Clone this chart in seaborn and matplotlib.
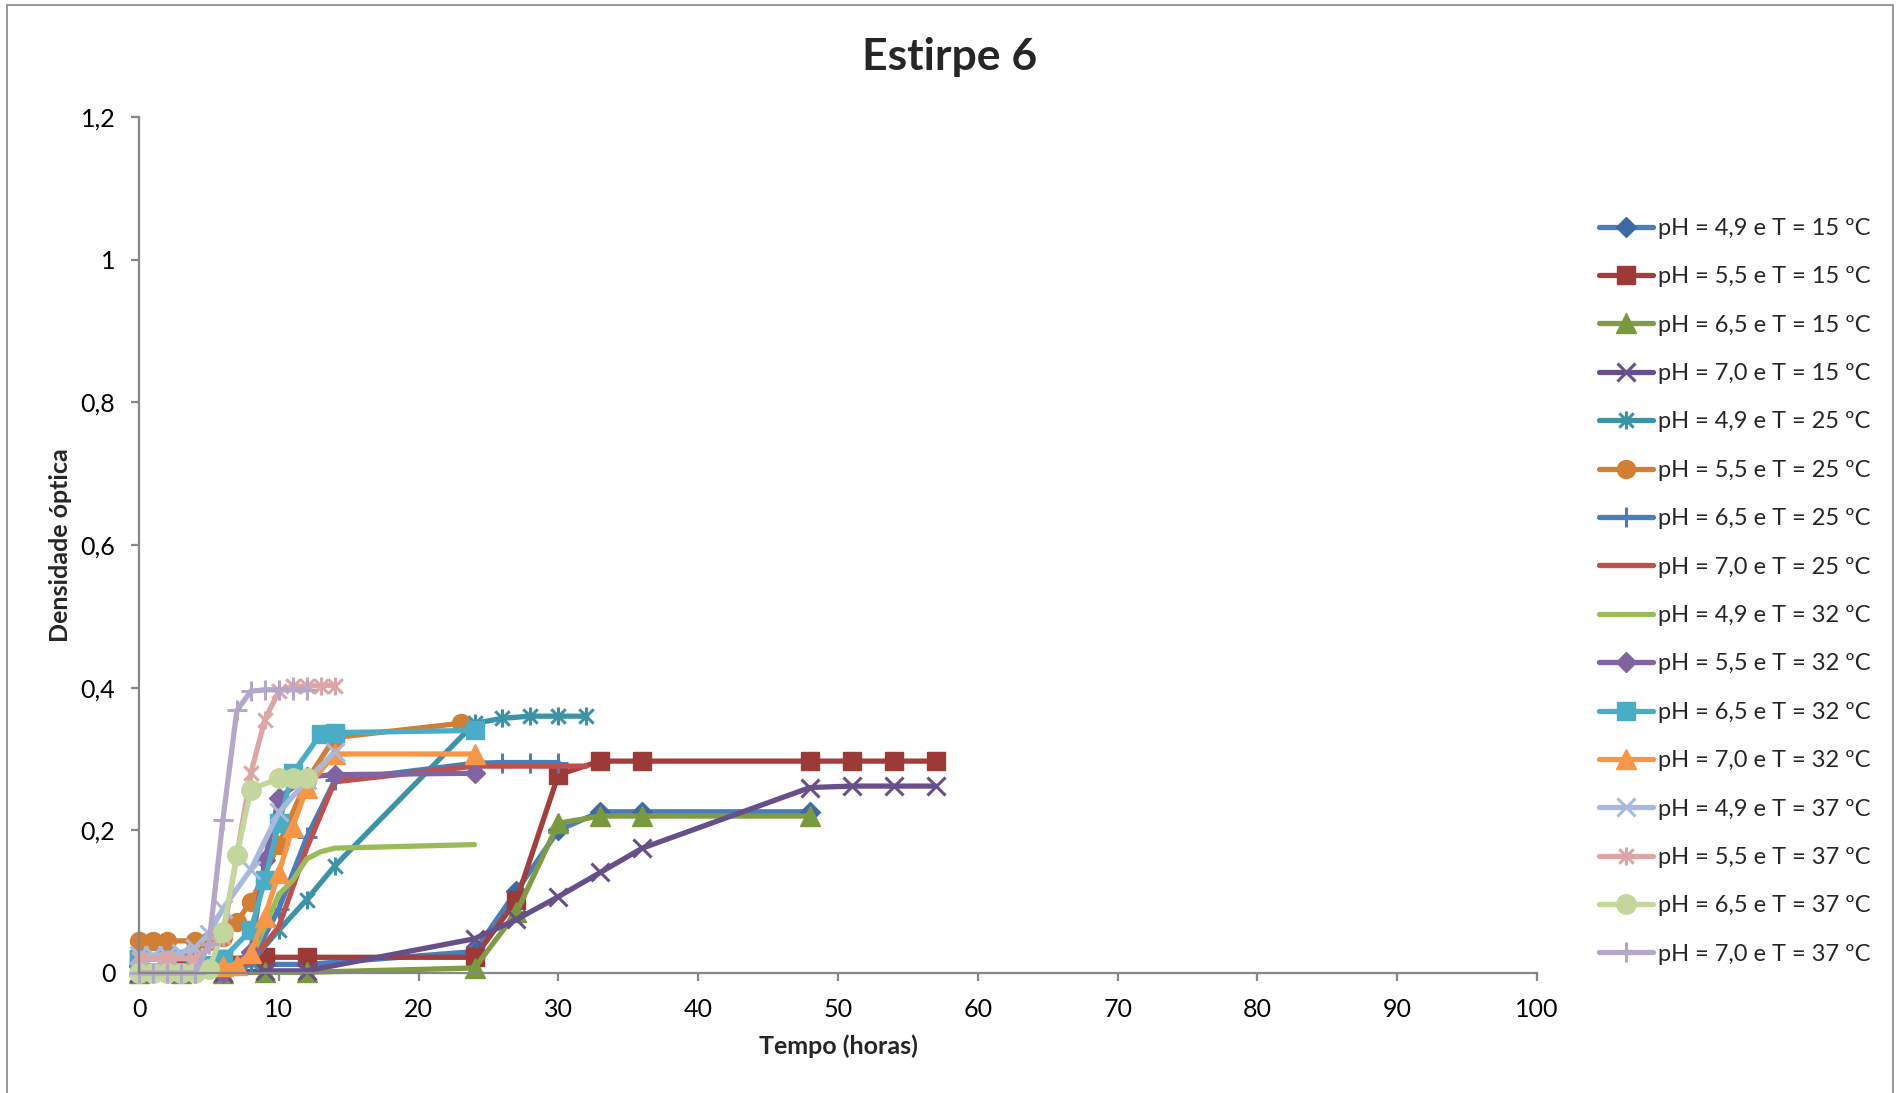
import matplotlib
matplotlib.use("Agg")
import matplotlib.pyplot as plt
from matplotlib.path import Path
from matplotlib.patches import Rectangle
from matplotlib.ticker import FuncFormatter, MultipleLocator
import seaborn as sns
import pandas as pd

# ---- growth curves: time (h) and optical density per condition ----
t_49_15 = [0, 3, 6, 9, 12, 24, 27, 30, 33, 36, 48]
od_49_15 = [0.010, 0.010, 0.010, 0.012, 0.012, 0.030, 0.115, 0.200, 0.226, 0.226, 0.226]

t_55_15 = [0, 3, 6, 9, 12, 24, 27, 30, 33, 36, 48, 51, 54, 57]
od_55_15 = [0.020, 0.020, 0.020, 0.022, 0.022, 0.022, 0.102, 0.278, 0.297, 0.297, 0.297, 0.297, 0.297, 0.297]

t_65_15 = [0, 3, 6, 9, 12, 24, 27, 30, 33, 36, 48]
od_65_15 = [0.000, 0.000, 0.000, 0.001, 0.001, 0.007, 0.085, 0.210, 0.220, 0.220, 0.220]

t_70_15 = [0, 3, 6, 9, 12, 24, 27, 30, 33, 36, 48, 51, 54, 57]
od_70_15 = [0.000, 0.000, 0.000, 0.003, 0.003, 0.048, 0.075, 0.107, 0.141, 0.175, 0.260, 0.262, 0.262, 0.262]

t_49_25 = [0, 2, 4, 6, 8, 10, 12, 14, 24, 26, 28, 30, 32]
od_49_25 = [0.010, 0.010, 0.010, 0.010, 0.015, 0.060, 0.103, 0.150, 0.350, 0.357, 0.360, 0.360, 0.360]

t_55_25 = [0, 1, 2, 4, 5, 6, 7, 8, 10, 12, 14, 23]
od_55_25 = [0.045, 0.045, 0.045, 0.045, 0.045, 0.050, 0.072, 0.100, 0.180, 0.270, 0.330, 0.350]

t_65_25 = [0, 2, 4, 6, 8, 10, 12, 14, 24, 26, 28, 30]
od_65_25 = [0.010, 0.010, 0.010, 0.010, 0.015, 0.090, 0.190, 0.270, 0.294, 0.295, 0.295, 0.295]

t_70_25 = [0, 2, 4, 6, 8, 10, 12, 14, 24, 26, 28, 30, 32]
od_70_25 = [0.010, 0.010, 0.010, 0.010, 0.015, 0.065, 0.175, 0.268, 0.290, 0.290, 0.290, 0.290, 0.290]

t_49_32 = [0, 2, 4, 6, 8, 10, 11, 12, 13, 14, 24]
od_49_32 = [0.005, 0.005, 0.005, 0.005, 0.020, 0.110, 0.130, 0.160, 0.170, 0.175, 0.180]

t_55_32 = [0, 2, 4, 6, 8, 9, 10, 12, 14, 24]
od_55_32 = [0.000, 0.000, 0.000, 0.000, 0.030, 0.158, 0.245, 0.275, 0.278, 0.280]

t_65_32 = [0, 2, 4, 6, 8, 9, 10, 11, 13, 14, 24]
od_65_32 = [0.020, 0.020, 0.020, 0.020, 0.060, 0.130, 0.210, 0.280, 0.335, 0.337, 0.340]

t_70_32 = [0, 2, 4, 6, 7, 8, 9, 10, 11, 12, 14, 24]
od_70_32 = [0.010, 0.010, 0.010, 0.010, 0.011, 0.028, 0.079, 0.140, 0.205, 0.260, 0.307, 0.307]

t_49_37 = [0, 1, 2, 3, 4, 5, 6, 8, 10, 12, 14]
od_49_37 = [0.025, 0.025, 0.025, 0.028, 0.035, 0.055, 0.090, 0.145, 0.225, 0.270, 0.310]

t_55_37 = [0, 2, 4, 6, 8, 9, 10, 11, 12, 13, 14]
od_55_37 = [0.020, 0.020, 0.020, 0.050, 0.280, 0.355, 0.395, 0.402, 0.402, 0.403, 0.403]

t_65_37 = [0, 1, 2, 3, 4, 5, 6, 7, 8, 10, 11, 12]
od_65_37 = [0.000, 0.000, 0.000, 0.000, 0.000, 0.005, 0.058, 0.165, 0.257, 0.273, 0.273, 0.273]

t_70_37 = [0, 1, 2, 3, 4, 5, 6, 7, 8, 9, 10, 11, 12]
od_70_37 = [0.000, 0.000, 0.000, 0.000, 0.000, 0.040, 0.215, 0.368, 0.395, 0.397, 0.397, 0.397, 0.397]

labels = [
    "pH = 4,9 e T = 15 ºC", "pH = 5,5 e T = 15 ºC", "pH = 6,5 e T = 15 ºC", "pH = 7,0 e T = 15 ºC",
    "pH = 4,9 e T = 25 ºC", "pH = 5,5 e T = 25 ºC", "pH = 6,5 e T = 25 ºC", "pH = 7,0 e T = 25 ºC",
    "pH = 4,9 e T = 32 ºC", "pH = 5,5 e T = 32 ºC", "pH = 6,5 e T = 32 ºC", "pH = 7,0 e T = 32 ºC",
    "pH = 4,9 e T = 37 ºC", "pH = 5,5 e T = 37 ºC", "pH = 6,5 e T = 37 ºC", "pH = 7,0 e T = 37 ºC",
]
times = [t_49_15, t_55_15, t_65_15, t_70_15, t_49_25, t_55_25, t_65_25, t_70_25,
         t_49_32, t_55_32, t_65_32, t_70_32, t_49_37, t_55_37, t_65_37, t_70_37]
densities = [od_49_15, od_55_15, od_65_15, od_70_15, od_49_25, od_55_25, od_65_25, od_70_25,
             od_49_32, od_55_32, od_65_32, od_70_32, od_49_37, od_55_37, od_65_37, od_70_37]

# Excel-like asterisk marker (X plus vertical bar)
asterisk = Path([(-1, -1), (1, 1), (-1, 1), (1, -1), (0, -1.25), (0, 1.25)],
                [Path.MOVETO, Path.LINETO, Path.MOVETO, Path.LINETO, Path.MOVETO, Path.LINETO])

# line colour, marker colour, marker, marker size
styles = [
    ("#4a7ebb", "#3c6aa6", "D", 10),
    ("#a33e3b", "#9b3a37", "s", 13),
    ("#7f9c45", "#799a3c", "^", 14),
    ("#67508a", "#67508a", "x", 13),
    ("#3a93a6", "#3a93a6", asterisk, 13),
    ("#d17f33", "#d17f33", "o", 13),
    ("#4a7ebb", "#4a7ebb", "+", 15),
    ("#c0504d", "#c0504d", None, 0),
    ("#9bbb59", "#9bbb59", None, 0),
    ("#8064a2", "#8064a2", "D", 10),
    ("#4bacc6", "#4bacc6", "s", 13),
    ("#f79646", "#f79646", "^", 14),
    ("#a7b9dc", "#a7b9dc", "x", 13),
    ("#dba6a5", "#dba6a5", asterisk, 13),
    ("#c3d69b", "#c3d69b", "o", 14),
    ("#b4a8c8", "#b4a8c8", "+", 15),
]

frames = []
for lab, t, od in zip(labels, times, densities):
    frames.append(pd.DataFrame({"Tempo": t, "DO": od, "Condição": lab}))
df = pd.concat(frames, ignore_index=True)

sns.set_theme(style="white")
plt.rcParams["font.family"] = ["Lato", "DejaVu Sans"]

fig = plt.figure(figsize=(18.99, 10.93), dpi=100)
fig.patch.set_facecolor("white")
ax = fig.add_axes([0.0732, 0.1098, 0.7362, 0.7832])

for lab, (lc, mc, mk, ms) in zip(labels, styles):
    sub = df[df["Condição"] == lab]
    kw = dict(color=lc, linewidth=3.8, solid_joinstyle="round", solid_capstyle="round")
    if mk is not None:
        kw.update(marker=mk, markersize=ms, markerfacecolor=mc, markeredgecolor=mc,
                  markeredgewidth=2.2 if mk in ("x", "+") or mk is asterisk else 1.0)
    sns.lineplot(data=sub, x="Tempo", y="DO", ax=ax, label=lab, clip_on=False,
                 estimator=None, sort=False, **kw)

ax.set_xlim(0, 100)
ax.set_ylim(0, 1.2)
ax.xaxis.set_major_locator(MultipleLocator(10))
ax.yaxis.set_major_locator(MultipleLocator(0.2))
ax.yaxis.set_major_formatter(FuncFormatter(lambda v, _: f"{v:.1f}".rstrip("0").rstrip(".").replace(".", ",")))

for side in ("top", "right"):
    ax.spines[side].set_visible(False)
for side in ("left", "bottom"):
    ax.spines[side].set_color("#868686")
    ax.spines[side].set_linewidth(1.6)
ax.tick_params(axis="both", which="major", direction="out", length=6, width=1.6,
               color="#868686", labelsize=18, labelcolor="black")
ax.tick_params(axis="x", bottom=True, pad=12)
ax.tick_params(axis="y", left=True, pad=11)
ax.grid(False)

ax.set_xlabel("Tempo (horas)", fontsize=18, fontweight="bold", labelpad=10)
ax.set_ylabel("Densidade óptica", fontsize=18, fontweight="bold", labelpad=6)

fig.text(0.5, 0.948, "Estirpe 6", ha="center", va="center", fontsize=32, fontweight="bold")

handles, labs = ax.get_legend_handles_labels()
ax.get_legend().remove()
fig.legend(handles, labs, loc="center left", bbox_to_anchor=(0.8306, 0.459), frameon=False,
           fontsize=17, handlelength=2.3, handletextpad=0.2, labelspacing=1.16, borderpad=0.4)

fig.patches.append(Rectangle((0.0035, -0.01), 0.9935, 1.005, transform=fig.transFigure,
                             fill=False, edgecolor="#868686", linewidth=1.2))

fig.savefig("out.png", dpi=100, facecolor="white")
